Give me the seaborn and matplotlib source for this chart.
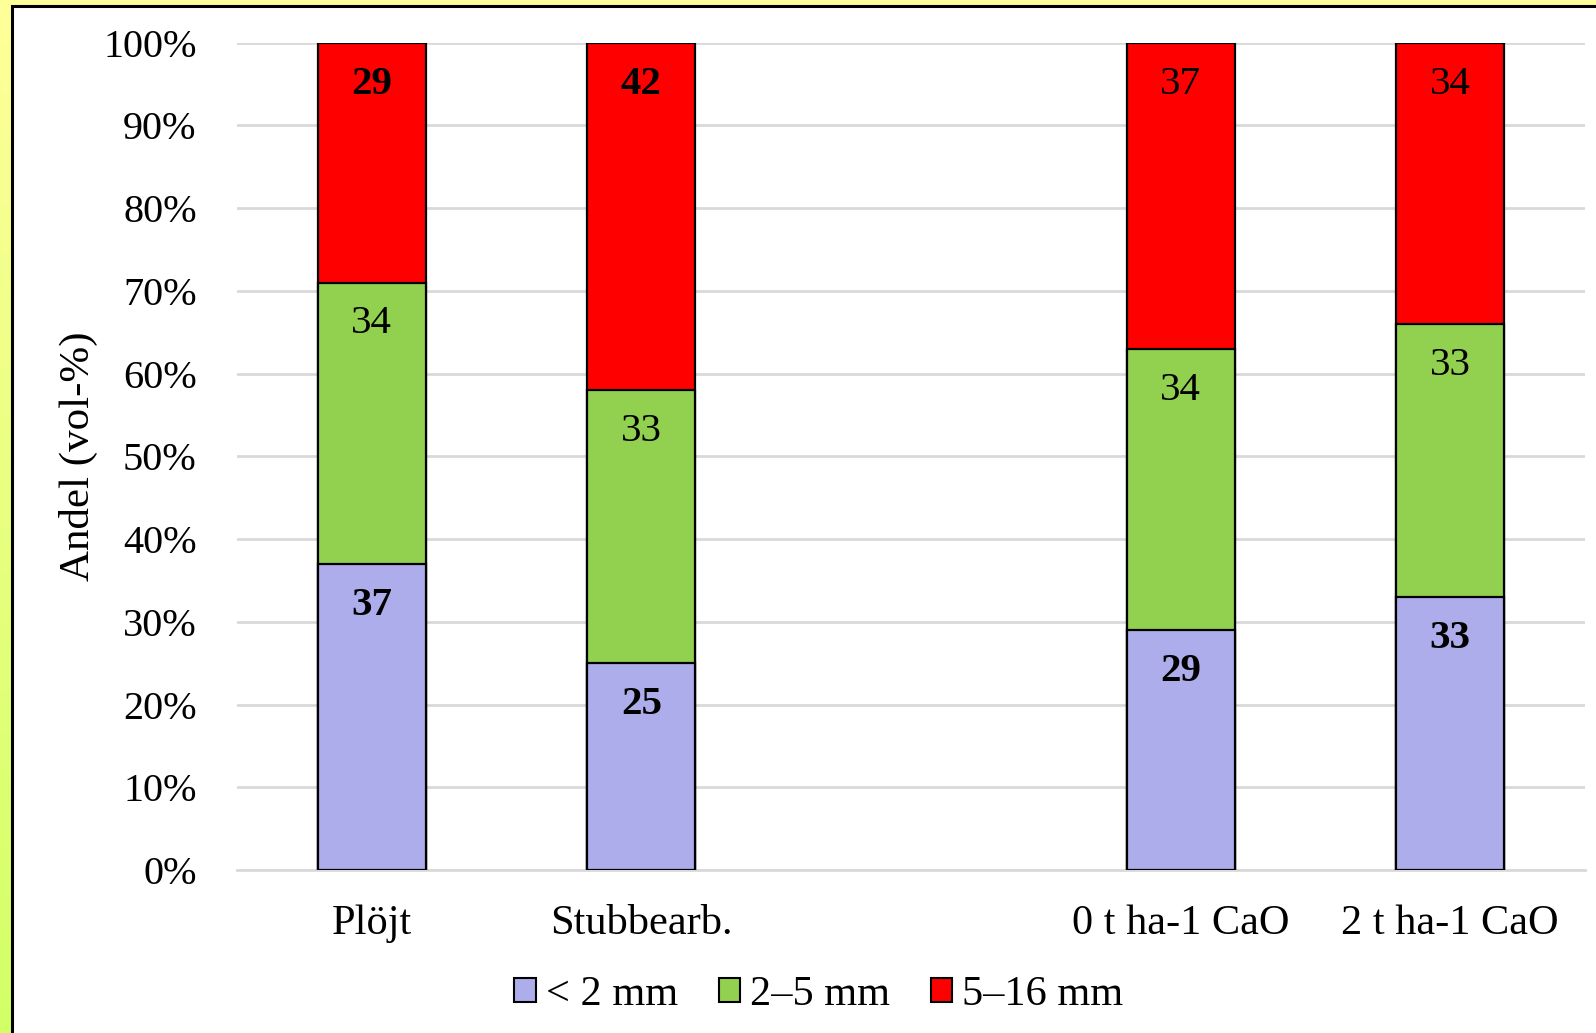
import matplotlib
matplotlib.use("Agg")
import numpy as np
import pandas as pd
import matplotlib.pyplot as plt
import seaborn as sns
from matplotlib.patches import Rectangle
from matplotlib.colors import LinearSegmentedColormap

# ── Data ──────────────────────────────────────────────────────────────────────
categories = ["Plöjt", "Stubbearb.", "0 t ha-1 CaO", "2 t ha-1 CaO"]
order = ["Plöjt", "Stubbearb.", "", "0 t ha-1 CaO", "2 t ha-1 CaO"]  # blank slot between groups
fine = [37, 25, 29, 33]       # < 2 mm
medium = [34, 33, 34, 33]     # 2–5 mm
coarse = [29, 42, 37, 34]     # 5–16 mm
series_names = ["< 2 mm", "2–5 mm", "5–16 mm"]
y_ticks = [0, 10, 20, 30, 40, 50, 60, 70, 80, 90, 100]

# label weights per segment (bold in original)
bold_fine = [True, True, True, True]
bold_medium = [False, False, False, False]
bold_coarse = [True, True, False, False]

colors = ["#ADADEB", "#92D050", "#FF0000"]

df = pd.DataFrame({"cat": categories, "fine": fine, "medium": medium, "coarse": coarse})
df["lvl1"] = df["fine"]
df["lvl2"] = df["fine"] + df["medium"]
df["lvl3"] = df["fine"] + df["medium"] + df["coarse"]

sns.set_style("white")
plt.rcParams["font.family"] = ["Liberation Serif", "DejaVu Serif"]
plt.rcParams["text.color"] = "black"
plt.rcParams["xtick.color"] = "black"
plt.rcParams["ytick.color"] = "black"
plt.rcParams["axes.labelcolor"] = "black"

fig = plt.figure(figsize=(15.96, 10.33), dpi=100)

# background gradient (yellow -> yellow-green) and white panel with black frame
bg = fig.add_axes([0, 0, 1, 1], zorder=-10)
cmap = LinearSegmentedColormap.from_list("bg", ["#FFFF99", "#D2FF66"])
bg.imshow(np.linspace(0, 1, 256).reshape(-1, 1), aspect="auto", cmap=cmap,
          extent=[0, 1, 0, 1], origin="upper")
bg.set_xlim(0, 1)
bg.set_ylim(0, 1)
bg.axis("off")
bg.add_patch(Rectangle((11.5 / 1596, -0.05), 1.2, 1 - 5.5 / 1033 + 0.05,
                       facecolor="white", edgecolor="black", linewidth=2.2))

ax = fig.add_axes([237 / 1596, 163 / 1033, (1585 - 237) / 1596, (870 - 42.7) / 1033])
ax.set_facecolor("none")

for col, c in zip(["lvl3", "lvl2", "lvl1"], colors[::-1]):
    sns.barplot(data=df, x="cat", y=col, order=order, color=c, width=0.4,
                edgecolor="black", linewidth=1.6, saturation=1, ax=ax, zorder=3)

# data labels near the top of each segment
for i, cat in enumerate(categories):
    x = order.index(cat)
    for top, val, bold in [(df["lvl1"][i], fine[i], bold_fine[i]),
                           (df["lvl2"][i], medium[i], bold_medium[i]),
                           (df["lvl3"][i], coarse[i], bold_coarse[i])]:
        ax.text(x, top - 5.0, str(val), ha="center", va="center", fontsize=29.5,
                fontweight="bold" if bold else "normal", zorder=5)

ax.set_ylim(0, 100)
ax.set_xlim(-0.5, 4.5)
ax.set_yticks(y_ticks)
ax.set_yticklabels([f"{t}%" for t in y_ticks])
ax.yaxis.grid(True, color="#D9D9D9", linewidth=2, zorder=0)
ax.set_axisbelow(True)
for s in ["top", "right", "left"]:
    ax.spines[s].set_visible(False)
ax.spines["bottom"].set_color("#D9D9D9")
ax.spines["bottom"].set_linewidth(2)
ax.tick_params(axis="y", length=0, pad=29, labelsize=29)
ax.tick_params(axis="x", length=0, pad=25, labelsize=30.5)
ax.set_xlabel("")
ax.set_ylabel("Andel (vol-%)", fontsize=31, labelpad=4)

handles = [Rectangle((0, 0), 1, 1, facecolor=c, edgecolor="black", linewidth=1.5) for c in colors]
fig.legend(handles, series_names, loc="center", bbox_to_anchor=(819 / 1596, 1 - 995 / 1033),
           ncol=3, frameon=False, fontsize=30.5, handlelength=0.5, handleheight=0.5,
           handletextpad=0.25, columnspacing=0.95)

fig.savefig("out.png", dpi=100)
